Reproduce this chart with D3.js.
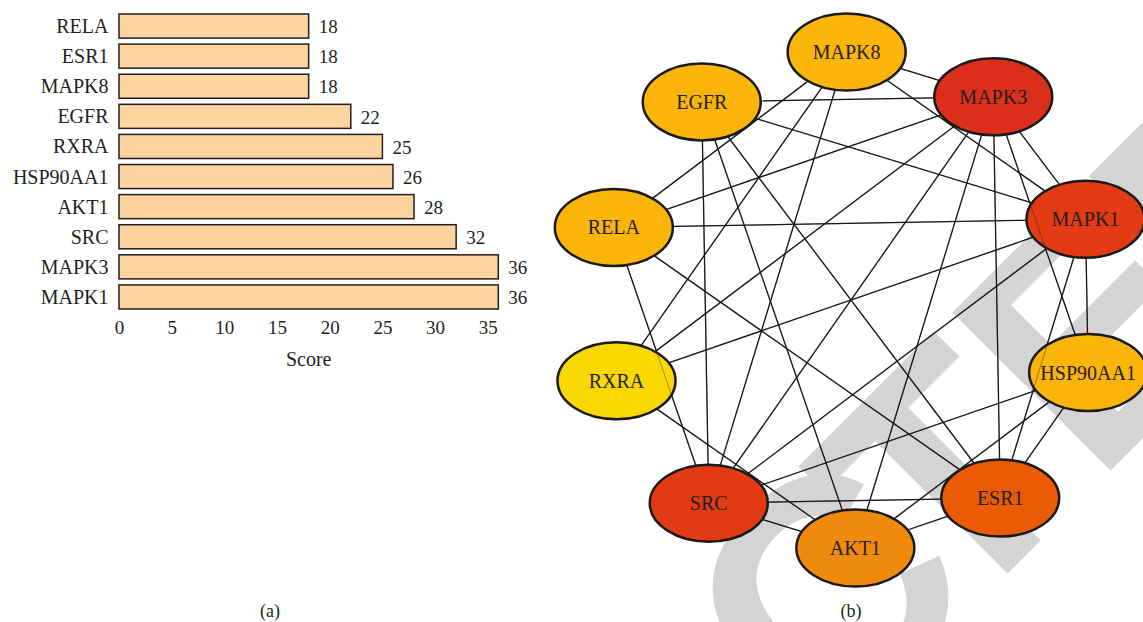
<!DOCTYPE html>
<html>
<head>
<meta charset="utf-8">
<script src="https://cdn.jsdelivr.net/npm/d3@7"></script>
<style>
  body { margin: 0; background: #fff; }
  text { font-family: "Liberation Serif", "Times New Roman", serif; fill: #231f20; }
</style>
</head>
<body>
<svg id="chart"></svg>
<script>
// bar chart data (top to bottom)
var genes = ["RELA", "ESR1", "MAPK8", "EGFR", "RXRA", "HSP90AA1", "AKT1", "SRC", "MAPK3", "MAPK1"],
    scores = [18, 18, 18, 22, 25, 26, 28, 32, 36, 36],
    scoreTicks = [0, 5, 10, 15, 20, 25, 30, 35];

// network: nodes in ring order (clockwise from top), and interactions
var ringOrder = ["MAPK8", "MAPK3", "MAPK1", "HSP90AA1", "ESR1", "AKT1", "SRC", "RXRA", "RELA", "EGFR"];
var links = [
    ["MAPK8", "MAPK3"], ["MAPK8", "MAPK1"], ["MAPK8", "RELA"], ["MAPK8", "RXRA"], ["MAPK8", "SRC"],
    ["MAPK3", "EGFR"], ["MAPK3", "RELA"], ["MAPK3", "RXRA"], ["MAPK3", "SRC"], ["MAPK3", "AKT1"],
    ["MAPK3", "ESR1"], ["MAPK3", "HSP90AA1"], ["MAPK3", "MAPK1"],
    ["MAPK1", "EGFR"], ["MAPK1", "RELA"], ["MAPK1", "RXRA"], ["MAPK1", "SRC"], ["MAPK1", "ESR1"],
    ["MAPK1", "HSP90AA1"],
    ["HSP90AA1", "SRC"], ["HSP90AA1", "AKT1"], ["HSP90AA1", "ESR1"],
    ["ESR1", "SRC"], ["ESR1", "AKT1"], ["ESR1", "EGFR"], ["ESR1", "RELA"],
    ["AKT1", "SRC"], ["AKT1", "RXRA"], ["AKT1", "EGFR"],
    ["SRC", "RELA"], ["SRC", "EGFR"]
];

var width = 1143, height = 622;

var svg = d3.select("#chart")
    .attr("width", width)
    .attr("height", height);

svg.append("rect").attr("width", width).attr("height", height).attr("fill", "#fff");

// grey watermark word, rotated across panel (b)
var mark = svg.append("g").attr("transform", "rotate(-45)");
var markText = mark.append("text")
    .text("RETRACTED")
    .attr("x", 0)
    .attr("y", 1118)
    .attr("dx", "0 0 0 0 0 0 -25 25 0")
    .style("font-family", '"Liberation Sans", Arial, sans-serif')
    .style("font-weight", "bold")
    .style("font-size", "325px")
    .style("letter-spacing", "-24px")
    .style("fill", "#d4d4d4");
var cStart = markText.node().getStartPositionOfChar(5).x;
markText.attr("x", 45.5 - cStart);

// ---- (a) bar chart ----
var x = d3.scaleLinear().domain([0, 36]).range([119, 498.3]);
var y = d3.scaleBand().domain(genes).range([11, 312]).paddingInner(0.2).paddingOuter(0.1);

var barG = svg.append("g");

barG.selectAll(".bar")
    .data(genes)
    .enter().append("rect")
    .attr("class", "bar")
    .attr("x", x(0))
    .attr("y", function (d) { return y(d); })
    .attr("width", function (d, i) { return x(scores[i]) - x(0); })
    .attr("height", y.bandwidth())
    .attr("fill", "#fdd3a0")
    .attr("stroke", "#231f20")
    .attr("stroke-width", 1.5);

barG.selectAll(".geneLabel")
    .data(genes)
    .enter().append("text")
    .attr("class", "geneLabel")
    .attr("x", 108.5)
    .attr("y", function (d) { return y(d) + y.bandwidth() / 2; })
    .attr("dy", "0.35em")
    .style("text-anchor", "end")
    .style("font-size", "20px")
    .text(function (d) { return d; });

barG.selectAll(".valueLabel")
    .data(genes)
    .enter().append("text")
    .attr("class", "valueLabel")
    .attr("x", function (d, i) { return x(scores[i]) + 10; })
    .attr("y", function (d) { return y(d) + y.bandwidth() / 2; })
    .attr("dy", "0.38em")
    .style("font-size", "19px")
    .text(function (d, i) { return scores[i]; });

var xAxis = barG.append("g")
    .attr("transform", "translate(0,312)")
    .call(d3.axisBottom(x).tickValues(scoreTicks).tickSize(0).tickPadding(9));
xAxis.select(".domain").remove();
xAxis.selectAll("text")
    .style("font-size", "19px")
    .style("font-family", '"Liberation Serif", "Times New Roman", serif')
    .attr("fill", "#231f20");

barG.append("text")
    .attr("x", 308.7)
    .attr("y", 366)
    .style("text-anchor", "middle")
    .style("font-size", "20px")
    .text("Score");

// ---- (b) network ----
var cx = 851, cy = 300, ringR = 248, rx = 59, ry = 38.5;
var angle = d3.scaleLinear().domain([0, ringOrder.length]).range([-91, 269]);

var nodes = ringOrder.map(function (id, i) {
    var a = angle(i) * Math.PI / 180;
    return { id: id, x: cx + ringR * Math.cos(a), y: cy + ringR * Math.sin(a), degree: 0 };
});
var byId = {};
nodes.forEach(function (n) { byId[n.id] = n; });
links.forEach(function (l) { byId[l[0]].degree++; byId[l[1]].degree++; });

var color = d3.scaleLinear()
    .domain([4, 5, 6, 7, 8, 9])
    .range(["#f9d700", "#fbb508", "#f08a0c", "#eb5b06", "#e23a13", "#dc2f1b"]);

// edge end points on the ellipse borders
function trimmed(l) {
    var a = byId[l[0]], b = byId[l[1]];
    var dx = b.x - a.x, dy = b.y - a.y;
    var t = 1 / Math.sqrt((dx / rx) * (dx / rx) + (dy / ry) * (dy / ry));
    return { x1: a.x + t * dx, y1: a.y + t * dy, x2: b.x - t * dx, y2: b.y - t * dy };
}
var segs = links.map(trimmed);

var netG = svg.append("g");

netG.selectAll(".edge")
    .data(segs)
    .enter().append("line")
    .attr("class", "edge")
    .attr("x1", function (d) { return d.x1; })
    .attr("y1", function (d) { return d.y1; })
    .attr("x2", function (d) { return d.x2; })
    .attr("y2", function (d) { return d.y2; })
    .attr("stroke", "#1a1a1a")
    .attr("stroke-width", 1.3);

netG.selectAll(".node")
    .data(nodes)
    .enter().append("ellipse")
    .attr("class", "node")
    .attr("cx", function (d) { return d.x; })
    .attr("cy", function (d) { return d.y; })
    .attr("rx", rx)
    .attr("ry", ry)
    .attr("fill", function (d) { return color(d.degree); })
    .attr("stroke", "#1a1a1a")
    .attr("stroke-width", 2.5);

// edges faintly showing through nodes they pass over
netG.selectAll(".edgeOver")
    .data(segs)
    .enter().append("line")
    .attr("class", "edgeOver")
    .attr("x1", function (d) { return d.x1; })
    .attr("y1", function (d) { return d.y1; })
    .attr("x2", function (d) { return d.x2; })
    .attr("y2", function (d) { return d.y2; })
    .attr("stroke", "#1a1a1a")
    .attr("stroke-opacity", 0.35)
    .attr("stroke-width", 1.1);

netG.selectAll(".nodeLabel")
    .data(nodes)
    .enter().append("text")
    .attr("class", "nodeLabel")
    .attr("x", function (d) { return d.x; })
    .attr("y", function (d) { return d.y; })
    .attr("dy", "0.35em")
    .style("text-anchor", "middle")
    .style("font-size", "20px")
    .text(function (d) { return d.id; });

// panel captions
svg.append("text").attr("x", 270).attr("y", 617).style("text-anchor", "middle").style("font-size", "18px").text("(a)");
svg.append("text").attr("x", 851).attr("y", 617).style("text-anchor", "middle").style("font-size", "18px").text("(b)");
</script>
</body>
</html>
